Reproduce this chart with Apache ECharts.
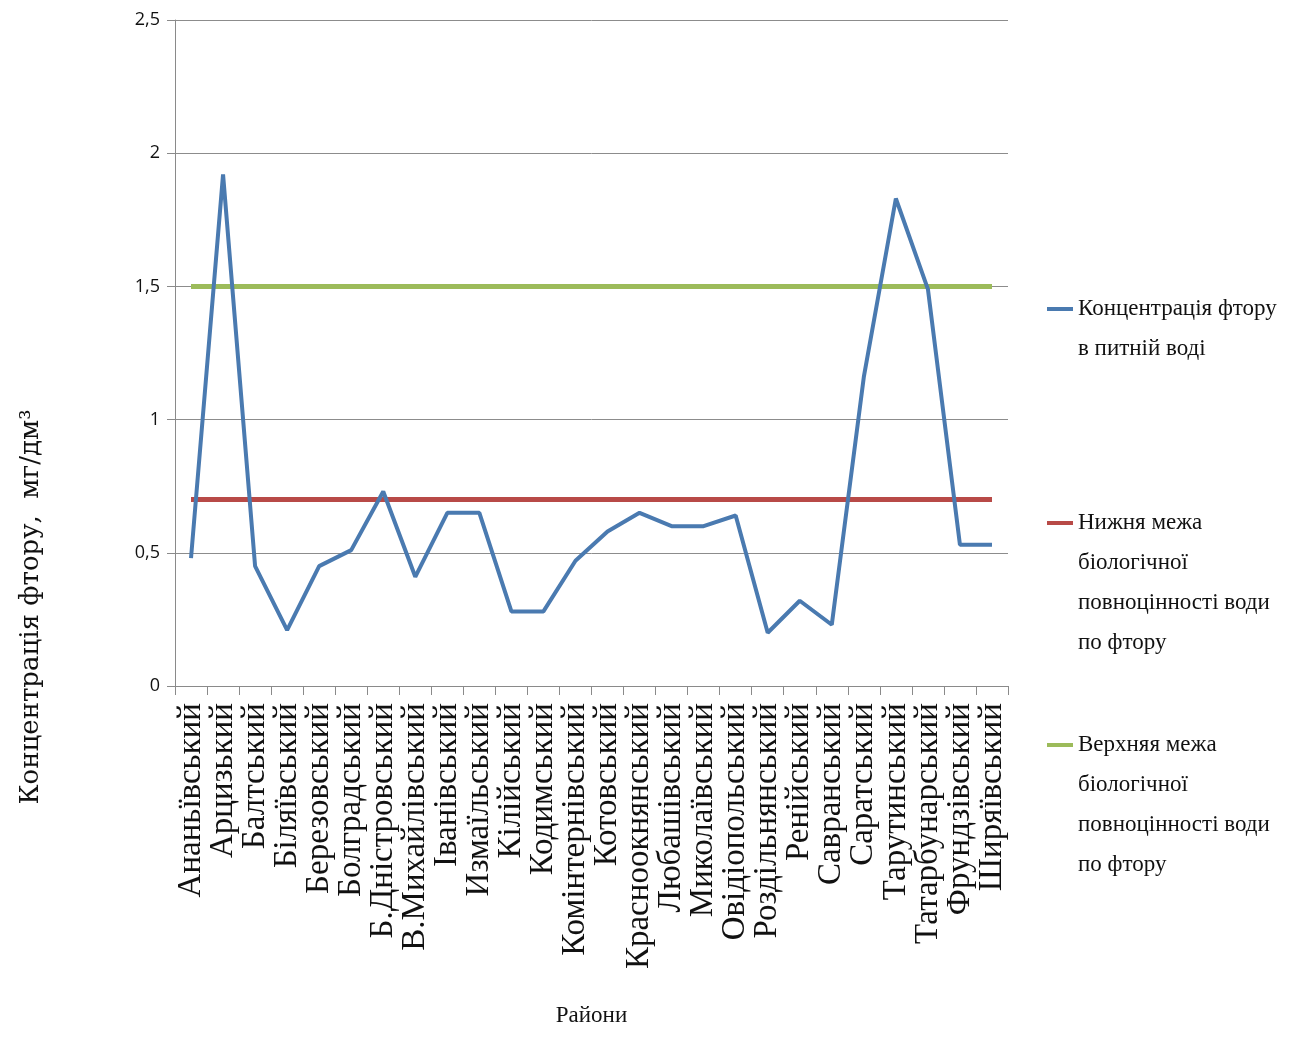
<!DOCTYPE html>
<html><head><meta charset="utf-8">
<script src="https://cdn.jsdelivr.net/npm/echarts@6/dist/echarts.min.js"></script>
<style>html,body{margin:0;padding:0;background:#fff}#c{width:1293px;height:1037px}</style>
</head><body><div id="c"></div>
<script>
const districts = ['Ананьївський','Арцизький','Балтський','Біляївський','Березовський','Болградський','Б.Дністровський','В.Михайлівський','Іванівський','Измаїльський','Кілійський','Кодимський','Комінтернівський','Котовський','Красноокнянський','Любашівський','Миколаївський','Овідіопольський','Роздільнянський','Ренійський','Савранський','Саратський','Тарутинський','Татарбунарський','Фрундзівський','Ширяївський'];
const fluorine = [0.48,1.92,0.45,0.21,0.45,0.51,0.73,0.41,0.65,0.65,0.28,0.28,0.47,0.58,0.65,0.60,0.60,0.64,0.20,0.32,0.23,1.16,1.83,1.49,0.53,0.53];
const lowerLimit = [0.7,0.7,0.7,0.7,0.7,0.7,0.7,0.7,0.7,0.7,0.7,0.7,0.7,0.7,0.7,0.7,0.7,0.7,0.7,0.7,0.7,0.7,0.7,0.7,0.7,0.7];
const upperLimit = [1.5,1.5,1.5,1.5,1.5,1.5,1.5,1.5,1.5,1.5,1.5,1.5,1.5,1.5,1.5,1.5,1.5,1.5,1.5,1.5,1.5,1.5,1.5,1.5,1.5,1.5];
const yTicks = ['0','0,5','1','1,5','2','2,5'];
const seriesNames = ['Концентрація фтору в питній воді','Нижня межа біологічної повноцінності води по фтору','Верхняя межа біологічної повноцінності води по фтору'];
const legendLines = [['Концентрація фтору','в питній воді'],['Нижня межа','біологічної','повноцінності води','по фтору'],['Верхняя межа','біологічної','повноцінності води','по фтору']];
const yTitle = 'Концентрація фтору,  мг/дм³';
const xTitle = 'Райони';

const serif = '"Liberation Serif", "DejaVu Serif", serif';
const LH = 40;
const legendIconY = [309, 523, 745];
const chart = echarts.init(document.getElementById('c'));
chart.setOption({
  animation: false,
  backgroundColor: '#fff',
  grid: {left: 175, right: 285, top: 20, bottom: 351, containLabel: false},
  xAxis: {
    type: 'category', data: districts, boundaryGap: true,
    axisLine: {lineStyle: {color: '#8a8a8a', width: 1}},
    axisTick: {show: true, length: 9, lineStyle: {color: '#8a8a8a'}},
    axisLabel: {rotate: 90, interval: 0, margin: 17, color: '#111', fontFamily: serif, fontSize: 33},
    name: xTitle, nameLocation: 'middle', nameGap: 318,
    nameTextStyle: {fontFamily: serif, fontSize: 23, color: '#111'}
  },
  yAxis: {
    type: 'value', min: 0, max: 2.5, interval: 0.5,
    axisLine: {show: true, lineStyle: {color: '#8a8a8a'}},
    axisTick: {show: true, length: 8, lineStyle: {color: '#8a8a8a'}},
    axisLabel: {margin: 15, color: '#111', fontFamily: '"Open Sans", sans-serif', fontSize: 18,
      formatter: function(v){ return yTicks[Math.round(v/0.5)]; }},
    splitLine: {lineStyle: {color: '#8c8c8c', width: 1}}
  },
  legend: legendLines.map(function(lines, i){
    const blanks = [];
    for (let k = 1; k < lines.length; k++) blanks.push('');
    return {
      data: [seriesNames[i]], orient: 'vertical', left: 1047,
      top: legendIconY[i] - LH/2 - (lines.length-1)*LH, padding: 0,
      icon: 'rect', itemWidth: 26, itemHeight: 4,
      formatter: function(){ return blanks.concat(lines).join('\n'); },
      textStyle: {fontFamily: serif, fontSize: 23, color: '#111', lineHeight: LH}
    };
  }),
  graphic: [{
    type: 'text', x: 31, y: 607, rotation: Math.PI/2,
    style: {text: yTitle, fontFamily: '"DejaVu Serif", serif', fontSize: 26, fill: '#111', align: 'center', verticalAlign: 'middle'}
  }],
  series: [
    {name: seriesNames[0], type: 'line', data: fluorine, symbol: 'none', lineStyle: {color: '#4a7ab0', width: 4}, itemStyle: {color: '#4a7ab0'}, z: 3},
    {name: seriesNames[1], type: 'line', data: lowerLimit, symbol: 'none', lineStyle: {color: '#b84a47', width: 5}, itemStyle: {color: '#b84a47'}, z: 2},
    {name: seriesNames[2], type: 'line', data: upperLimit, symbol: 'none', lineStyle: {color: '#9cbb5a', width: 5}, itemStyle: {color: '#9cbb5a'}, z: 2}
  ]
});
</script></body></html>
